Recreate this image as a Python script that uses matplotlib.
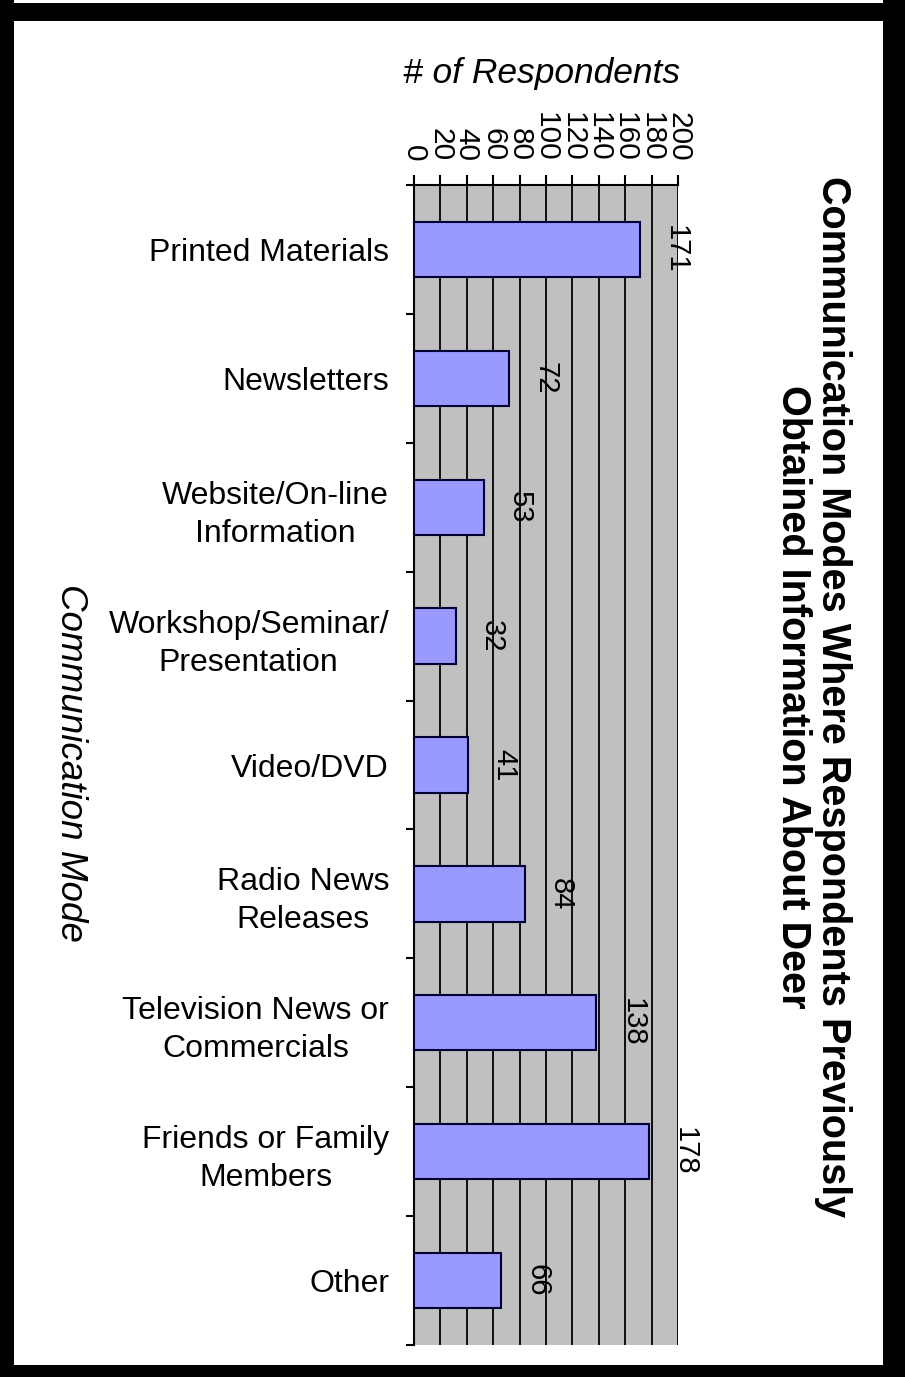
import matplotlib
matplotlib.use("Agg")
import matplotlib.pyplot as plt
from matplotlib.patches import Rectangle
import numpy as np

plt.rcParams['font.family'] = ['Liberation Sans', 'DejaVu Sans']

categories = ["Printed Materials", "Newsletters", "Website/On-line\nInformation",
              "Workshop/Seminar/\nPresentation", "Video/DVD", "Radio News\nReleases",
              "Television News or\nCommercials", "Friends or Family\nMembers", "Other"]
values = [171, 72, 53, 32, 41, 84, 138, 178, 66]
x_ticks = [0, 20, 40, 60, 80, 100, 120, 140, 160, 180, 200]

W, H = 905, 1377
fig = plt.figure(figsize=(W / 100, H / 100), dpi=100)
fig.patch.set_facecolor('white')

# axes placement in pixels
L, R, T, B = 414, 678, 185, 1345
ax = fig.add_axes([L / W, 1 - B / H, (R - L) / W, (B - T) / H])
ax.set_facecolor('#C0C0C0')

y = np.arange(len(categories))
ax.barh(y, values, height=0.43, color='#9999FF', edgecolor='#000033', linewidth=1.5, zorder=3)

ax.set_xlim(0, 200)
ax.set_ylim(len(categories) - 0.5, -0.5)

ax.xaxis.tick_top()
ax.set_xticks(x_ticks)
ax.set_xticklabels([str(v) for v in x_ticks], rotation=-90)
ax.tick_params(axis='x', direction='out', length=7, width=1.5, pad=10, labelsize=21.5, top=True, bottom=False)
for lab in ax.get_xticklabels():
    lab.set_verticalalignment('bottom')
    lab.set_horizontalalignment('center')

ax.set_yticks(y)
ax.set_yticklabels(categories, fontsize=23, multialignment='center', linespacing=1.35)
ax.tick_params(axis='y', which='major', length=0, pad=18)
ax.set_yticks(np.arange(len(categories) + 1) - 0.5, minor=True)
ax.tick_params(axis='y', which='minor', direction='out', length=6, width=1.5, left=True)

ax.grid(axis='x', color='black', linewidth=1.3, zorder=1)
ax.set_axisbelow(True)
for s in ['right', 'bottom']:
    ax.spines[s].set_visible(False)
ax.spines['top'].set_linewidth(1.5)
ax.spines['left'].set_linewidth(1.5)

for yi, v in zip(y, values):
    ax.annotate(str(v), xy=(v, yi), xytext=(26, 0), textcoords='offset points',
                rotation=-90, ha='center', va='center', fontsize=21, zorder=4)

fig.text(542 / W, 1 - 73 / H, '# of Respondents', fontsize=25.5, style='italic',
         ha='center', va='center')
fig.text(70 / W, 1 - 763 / H, 'Communication Mode', fontsize=26.5, style='italic',
         rotation=-90, ha='center', va='center')
fig.text(813 / W, 1 - 697 / H,
         'Communication Modes Where Respondents Previously\nObtained Information About Deer',
         fontsize=28.5, fontweight='bold', rotation=-90, ha='center', va='center',
         multialignment='center', linespacing=1.05)

# thick black frame
def band(x0, y0, x1, y1):
    fig.patches.append(Rectangle((x0 / W, 1 - y1 / H), (x1 - x0) / W, (y1 - y0) / H,
                                 transform=fig.transFigure, facecolor='black',
                                 edgecolor='none', zorder=10))
band(0, 0, 14, H)
band(0, 3, W, 21)
band(883, 0, W, H)
band(0, 1365, W, H)

fig.savefig('out.png', dpi=100)
